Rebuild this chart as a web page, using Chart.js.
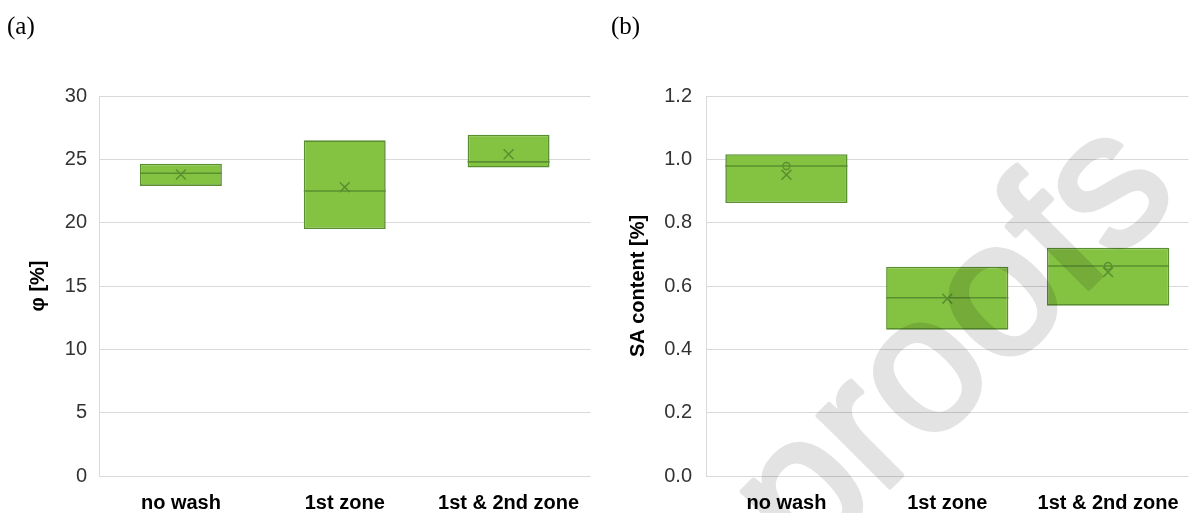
<!DOCTYPE html>
<html>
<head>
<meta charset="utf-8">
<script src="https://cdn.jsdelivr.net/npm/chart.js@4.4.1/dist/chart.umd.min.js"></script>
<style>
  html, body { margin: 0; padding: 0; background: #fff; }
  body { width: 1189px; height: 513px; position: relative; overflow: hidden; }
  .panel { position: absolute; top: 0; height: 513px; }
  .tag { position: absolute; top: 12px; font-family: "Liberation Serif", "Times New Roman", serif; font-size: 25px; color: #000; }
</style>
</head>
<body>
<div class="panel" style="left:0;width:599px"><canvas id="chartA" width="599" height="513"></canvas></div>
<div class="panel" style="left:600px;width:597px"><canvas id="chartB" width="597" height="513"></canvas></div>
<div class="tag" style="left:7px">(a)</div>
<div class="tag" style="left:611px">(b)</div>
<script>
// Washing stages
const categories = ['no wash', '1st zone', '1st & 2nd zone'];

// (a) porosity φ [%]
const phiQ1     = [22.9, 19.5, 24.35];
const phiQ3     = [24.65, 26.5, 26.95];
const phiMedian = [23.9, 22.5, 24.8];
const phiMean   = [23.8, 22.8, 25.4];
const phiTicks  = [0, 5, 10, 15, 20, 25, 30];

// (b) SA content [%]
const saQ1     = [0.862, 0.462, 0.538];
const saQ3     = [1.016, 0.661, 0.721];
const saMedian = [0.979, 0.563, 0.663];
const saMean   = [0.951, 0.560, 0.644];
const saPoints = [0.979, null, 0.663];
const saTicks  = [0, 0.2, 0.4, 0.6, 0.8, 1.0, 1.2];

const FONT = '"Liberation Sans", Arial, sans-serif';
const BOX_FILL = '#84c341';
const BOX_EDGE = '#5a8f31';
const GRID = '#d9d9d9';

// Median line across each box, drawn at the bar's own width
const medianPlugin = {
  id: 'medianLines',
  afterDatasetsDraw(chart, args, opts) {
    const meta = chart.getDatasetMeta(0);
    const y = chart.scales.y;
    const ctx = chart.ctx;
    ctx.save();
    ctx.strokeStyle = BOX_EDGE;
    ctx.lineWidth = 1.6;
    meta.data.forEach((bar, i) => {
      const py = y.getPixelForValue(opts.values[i]);
      ctx.beginPath();
      ctx.moveTo(bar.x - bar.width / 2, py);
      ctx.lineTo(bar.x + bar.width / 2, py);
      ctx.stroke();
    });
    ctx.restore();
  }
};

// Diagonal "proofs" stamp over panel (b): rendered solid off-screen, then laid on translucently
const stampPlugin = {
  id: 'stamp',
  afterDraw(chart, args, opts) {
    if (!opts.text) return;
    const w = chart.width, h = chart.height;
    const off = document.createElement('canvas');
    off.width = w; off.height = h;
    const o = off.getContext('2d');
    o.translate(opts.x, opts.y);
    o.rotate(-Math.PI / 4);
    o.font = '192px ' + FONT;
    o.textBaseline = 'alphabetic';
    o.fillStyle = '#000';
    o.strokeStyle = '#000';
    o.lineWidth = 5;
    o.lineJoin = 'round';
    o.lineCap = 'round';
    o.fillText(opts.text, 0, 0);
    o.strokeText(opts.text, 0, 0);
    const ctx = chart.ctx;
    ctx.save();
    ctx.globalAlpha = 0.11;
    ctx.drawImage(off, 0, 0, w, h);
    ctx.restore();
  }
};

function boxChart(canvasId, cfg) {
  const boxes = cfg.q1.map((v, i) => [v, cfg.q3[i]]);
  const datasets = [
    {
      type: 'bar',
      data: boxes,
      backgroundColor: BOX_FILL,
      borderColor: BOX_EDGE,
      borderWidth: 1.6,
      borderSkipped: false,
      categoryPercentage: 1,
      barPercentage: cfg.barPct,
      order: 3
    },
    {
      type: 'line',
      data: cfg.mean,
      showLine: false,
      pointStyle: 'crossRot',
      pointRadius: 7,
      pointBorderColor: BOX_EDGE,
      pointBorderWidth: 1.5,
      order: 1
    }
  ];
  if (cfg.points) {
    datasets.push({
      type: 'line',
      data: cfg.points,
      showLine: false,
      pointStyle: 'circle',
      pointRadius: 3.5,
      pointBackgroundColor: BOX_FILL,
      pointBorderColor: BOX_EDGE,
      pointBorderWidth: 1.4,
      order: 0
    });
  }
  return new Chart(document.getElementById(canvasId), {
    data: { labels: categories, datasets },
    plugins: [medianPlugin, stampPlugin],
    options: {
      responsive: false,
      animation: false,
      events: [],
      layout: { padding: { top: 96, right: cfg.padRight, left: 0, bottom: 0 } },
      plugins: {
        legend: { display: false },
        tooltip: { enabled: false },
        medianLines: { values: cfg.median },
        stamp: cfg.stamp || {}
      },
      scales: {
        x: {
          offset: true,
          grid: { display: false },
          border: { display: false },
          ticks: {
            color: '#000',
            padding: 7,
            maxRotation: 0,
            font: { family: FONT, size: 20, weight: 'bold' }
          },
          afterFit(scale) { scale.height = 37; }
        },
        y: {
          min: cfg.ticks[0],
          max: cfg.ticks[cfg.ticks.length - 1],
          afterBuildTicks(scale) { scale.ticks = cfg.ticks.map(v => ({ value: v })); },
          grid: { color: GRID, lineWidth: 1, drawTicks: false },
          border: { display: true, color: GRID, width: 1 },
          ticks: {
            color: '#333',
            padding: cfg.tickPad,
            font: { family: FONT, size: 20 },
            callback: cfg.fmt
          },
          title: {
            display: true,
            text: cfg.title,
            color: '#000',
            padding: { top: 26, bottom: 0 },
            font: { family: FONT, size: 20, weight: 'bold' }
          },
          afterFit(scale) { scale.width = cfg.axisWidth; }
        }
      }
    }
  });
}

boxChart('chartA', {
  q1: phiQ1, q3: phiQ3, median: phiMedian, mean: phiMean,
  ticks: phiTicks, title: 'φ [%]', fmt: v => String(v),
  barPct: 0.5, axisWidth: 99, padRight: 1, tickPad: 12
});

boxChart('chartB', {
  q1: saQ1, q3: saQ3, median: saMedian, mean: saMean, points: saPoints,
  ticks: saTicks, title: 'SA content [%]', fmt: v => Number(v).toFixed(1),
  barPct: 0.76, axisWidth: 106, padRight: 1, tickPad: 14,
  stamp: { text: 'proofs', x: 205, y: 572 }
});
</script>
</body>
</html>
